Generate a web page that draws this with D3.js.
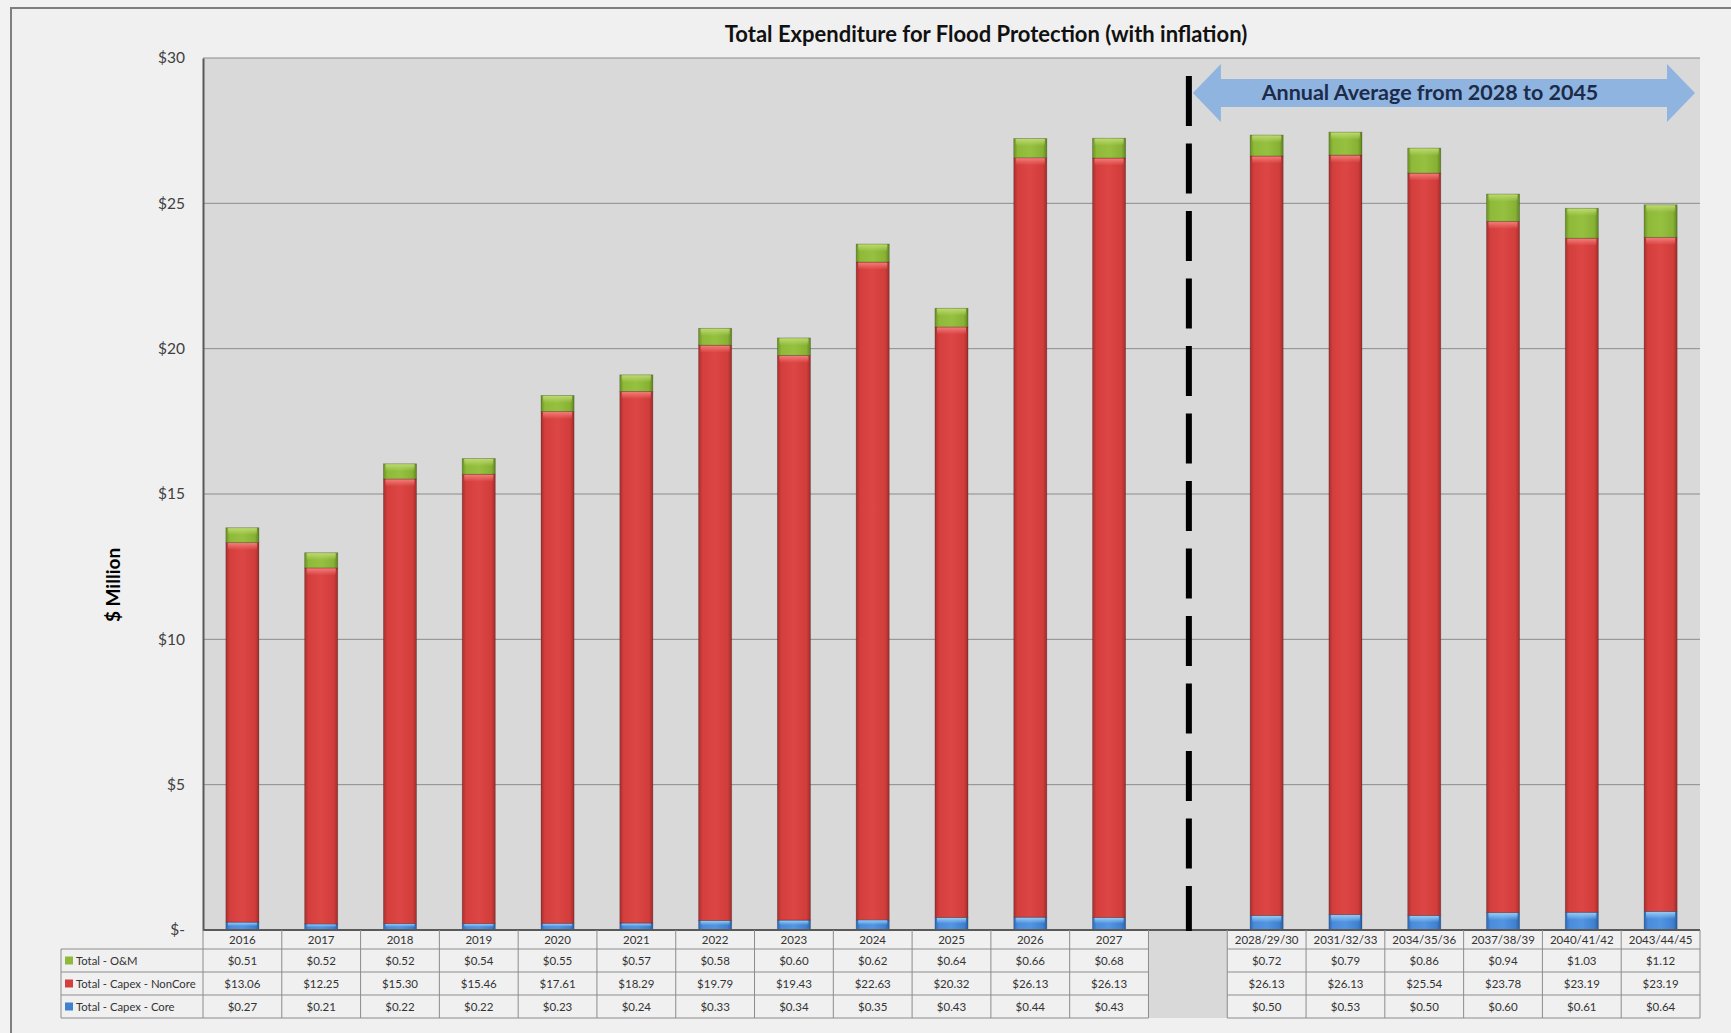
<!DOCTYPE html>
<html>
<head>
<meta charset="utf-8">
<script src="https://cdn.jsdelivr.net/npm/d3@7"></script>
<style>
  body { margin: 0; background: #f2f2f2; }
  svg { display: block; font-family: Lato, "Open Sans", sans-serif; }
</style>
</head>
<body>
<svg id="chart" width="1731" height="1033"></svg>
<script>
// data ('' is the blank gap column)
const categories = ['2016', '2017', '2018', '2019', '2020', '2021', '2022', '2023', '2024', '2025', '2026', '2027', '',
  '2028/29/30', '2031/32/33', '2034/35/36', '2037/38/39', '2040/41/42', '2043/44/45'];
const core = [0.27, 0.21, 0.22, 0.22, 0.23, 0.24, 0.33, 0.34, 0.35, 0.43, 0.44, 0.43, null,
  0.50, 0.53, 0.50, 0.60, 0.61, 0.64];
const nonCore = [13.06, 12.25, 15.30, 15.46, 17.61, 18.29, 19.79, 19.43, 22.63, 20.32, 26.13, 26.13, null,
  26.13, 26.13, 25.54, 23.78, 23.19, 23.19];
const om = [0.51, 0.52, 0.52, 0.54, 0.55, 0.57, 0.58, 0.60, 0.62, 0.64, 0.66, 0.68, null,
  0.72, 0.79, 0.86, 0.94, 1.03, 1.12];
const yTicks = [0, 5, 10, 15, 20, 25, 30];
const seriesNames = ['Total - O&M', 'Total - Capex - NonCore', 'Total - Capex - Core'];
const title = 'Total Expenditure for Flood Protection (with inflation)';
const arrowLabel = 'Annual Average from 2028 to 2045';

const svg = d3.select('#chart');
const plotL = 203, plotR = 1700, plotT = 58, plotB = 930;
const rowH = 23, headH = 19;

// chart background + border (right and bottom edges fall outside the view)
svg.append('rect').attr('x', 11).attr('y', 8).attr('width', 1760).attr('height', 1060)
  .attr('fill', '#f0f0f0').attr('stroke', '#7f7f7f').attr('stroke-width', 2);

const x = d3.scaleBand().domain(categories).range([plotL, plotR]);
const y = d3.scaleLinear().domain([0, 30]).range([plotB, plotT]);
const bw = x.bandwidth() * 0.42;

// gradients for the bevelled bars
const defs = svg.append('defs');
const palettes = {
  red: ['#a82f2e', '#d43f3d', '#dc4644', '#d13d3b', '#a12c2b'],
  green: ['#6a9122', '#8fba39', '#96c140', '#87b134', '#5f851d'],
  blue: ['#2c68b6', '#4a8bdb', '#5395e1', '#3f80d0', '#285fa6']
};
Object.entries(palettes).forEach(([k, cs]) => {
  const g = defs.append('linearGradient').attr('id', 'g-' + k);
  [0, 0.12, 0.5, 0.88, 1].forEach((o, i) => g.append('stop').attr('offset', o).attr('stop-color', cs[i]));
});
const tops = { red: '#f27c78', green: '#bcd970', blue: '#95cbf4' };
Object.entries(tops).forEach(([k, c]) => {
  const g = defs.append('linearGradient').attr('id', 't-' + k).attr('x1', 0).attr('x2', 0).attr('y1', 0).attr('y2', 1);
  g.append('stop').attr('offset', 0).attr('stop-color', c).attr('stop-opacity', 1);
  g.append('stop').attr('offset', 1).attr('stop-color', c).attr('stop-opacity', 0);
});

// plot area
svg.append('rect').attr('x', plotL).attr('y', plotT).attr('width', plotR - plotL).attr('height', plotB - plotT)
  .attr('fill', '#d9d9d9');

svg.append('g').selectAll('line').data(yTicks.filter(d => d > 0)).join('line')
  .attr('x1', plotL).attr('x2', plotR).attr('y1', d => y(d)).attr('y2', d => y(d))
  .attr('stroke', '#8c8c8c').attr('stroke-width', 1);

// y axis
const yAxis = d3.axisLeft(y).tickValues(yTicks).tickSize(0).tickPadding(18)
  .tickFormat(d => d === 0 ? '$-' : '$' + d);
const ya = svg.append('g').attr('transform', `translate(${plotL},0)`).call(yAxis);
ya.select('.domain').attr('stroke', '#595959').attr('stroke-width', 2);
ya.selectAll('text').attr('font-size', 15.5).attr('fill', '#404040').attr('font-family', 'Lato, sans-serif');

svg.append('text').attr('transform', 'translate(120,585) rotate(-90)')
  .attr('text-anchor', 'middle').attr('font-size', 19).attr('font-weight', 'bold').attr('fill', '#000')
  .text('$ Million');

svg.append('text').attr('x', 986).attr('y', 42).attr('text-anchor', 'middle')
  .attr('font-size', 22).attr('font-weight', 'bold').attr('fill', '#111').text(title);

// stacked bars
const rows = categories.map((c, i) => ({ c, core: core[i], nonCore: nonCore[i], om: om[i] }))
  .filter(d => d.core != null);
const stack = d3.stack().keys(['core', 'nonCore', 'om'])(rows);
const colorKey = { core: 'blue', nonCore: 'red', om: 'green' };

stack.forEach(layer => {
  const k = colorKey[layer.key];
  const g = svg.append('g');
  layer.forEach(s => {
    const x0 = x(s.data.c) + (x.bandwidth() - bw) / 2;
    const y0 = y(s[1]), h = y(s[0]) - y(s[1]);
    g.append('rect').attr('x', x0).attr('y', y0).attr('width', bw).attr('height', h)
      .attr('fill', `url(#g-${k})`).attr('stroke', 'rgba(0,0,0,0.25)').attr('stroke-width', 0.8);
    g.append('rect').attr('x', x0 + 2).attr('y', y0 + 0.5).attr('width', bw - 4).attr('height', Math.min(7, h * 0.45))
      .attr('fill', `url(#t-${k})`);
  });
});

// bottom axis line
svg.append('line').attr('x1', plotL).attr('x2', plotR).attr('y1', plotB).attr('y2', plotB)
  .attr('stroke', '#595959').attr('stroke-width', 2);

// dashed divider in the gap column
const gapX = x('') + x.bandwidth() / 2 + 1;
svg.append('line').attr('x1', gapX).attr('x2', gapX).attr('y1', 76).attr('y2', 934)
  .attr('stroke', '#000').attr('stroke-width', 6).attr('stroke-dasharray', '50,17.5');

// double arrow
const ax0 = gapX + 4, ax1 = plotR - 5, acy = 93, hl = 28, hh = 29, sh = 14;
const arrow = d3.path();
arrow.moveTo(ax0, acy);
arrow.lineTo(ax0 + hl, acy - hh); arrow.lineTo(ax0 + hl, acy - sh);
arrow.lineTo(ax1 - hl, acy - sh); arrow.lineTo(ax1 - hl, acy - hh);
arrow.lineTo(ax1, acy);
arrow.lineTo(ax1 - hl, acy + hh); arrow.lineTo(ax1 - hl, acy + sh);
arrow.lineTo(ax0 + hl, acy + sh); arrow.lineTo(ax0 + hl, acy + hh);
arrow.closePath();
svg.append('path').attr('d', arrow.toString()).attr('fill', '#8fb4e0');
svg.append('text').attr('x', 1430).attr('y', acy + 7).attr('text-anchor', 'middle')
  .attr('font-size', 21.5).attr('font-weight', 'bold').attr('fill', '#1c2b4a').text(arrowLabel);

// data table
const tbl = svg.append('g');
const tableB = plotB + headH + rowH * 3;
const gapL = x(''), gapR = x('') + x.bandwidth();
tbl.append('rect').attr('x', gapL).attr('y', plotB + 1).attr('width', x.bandwidth()).attr('height', tableB - plotB - 1)
  .attr('fill', '#d9d9d9');

const lineCol = '#8c8c8c';
// vertical lines
categories.forEach(c => {
  const xl = x(c);
  tbl.append('line').attr('x1', xl).attr('x2', xl).attr('y1', plotB).attr('y2', tableB)
    .attr('stroke', lineCol).attr('stroke-width', 1);
});
tbl.append('line').attr('x1', plotR).attr('x2', plotR).attr('y1', plotB).attr('y2', tableB)
  .attr('stroke', lineCol);
tbl.append('line').attr('x1', 61).attr('x2', 61).attr('y1', plotB + headH).attr('y2', tableB)
  .attr('stroke', lineCol);
// horizontal lines (skipping the gap column)
[plotB + headH, plotB + headH + rowH, plotB + headH + rowH * 2, tableB].forEach(ly => {
  tbl.append('line').attr('x1', 61).attr('x2', gapL).attr('y1', ly).attr('y2', ly).attr('stroke', lineCol);
  tbl.append('line').attr('x1', gapR).attr('x2', plotR).attr('y1', ly).attr('y2', ly).attr('stroke', lineCol);
});

const txt = (sel) => sel.attr('font-size', 11.5).attr('fill', '#333');
tbl.append('g').selectAll('text').data(categories.filter(c => c !== '')).join('text')
  .attr('x', d => x(d) + x.bandwidth() / 2).attr('y', plotB + 14).attr('text-anchor', 'middle')
  .call(txt).text(d => d);

const fmt = d3.format('$.2f');
const tableSeries = [
  { name: seriesNames[0], vals: om, color: '#8fba39' },
  { name: seriesNames[1], vals: nonCore, color: '#d43f3d' },
  { name: seriesNames[2], vals: core, color: '#3f80d0' }
];
tableSeries.forEach((s, r) => {
  const ry = plotB + headH + rowH * r;
  tbl.append('rect').attr('x', 65).attr('y', ry + rowH / 2 - 4).attr('width', 8).attr('height', 8).attr('fill', s.color);
  tbl.append('text').attr('x', 76).attr('y', ry + 16).attr('font-size', 11.3).attr('fill', '#333').text(s.name);
  tbl.append('g').selectAll('text').data(categories.map((c, i) => ({ c, v: s.vals[i] })).filter(d => d.v != null))
    .join('text')
    .attr('x', d => x(d.c) + x.bandwidth() / 2).attr('y', ry + 16).attr('text-anchor', 'middle')
    .call(txt).text(d => fmt(d.v));
});
</script>
</body>
</html>
